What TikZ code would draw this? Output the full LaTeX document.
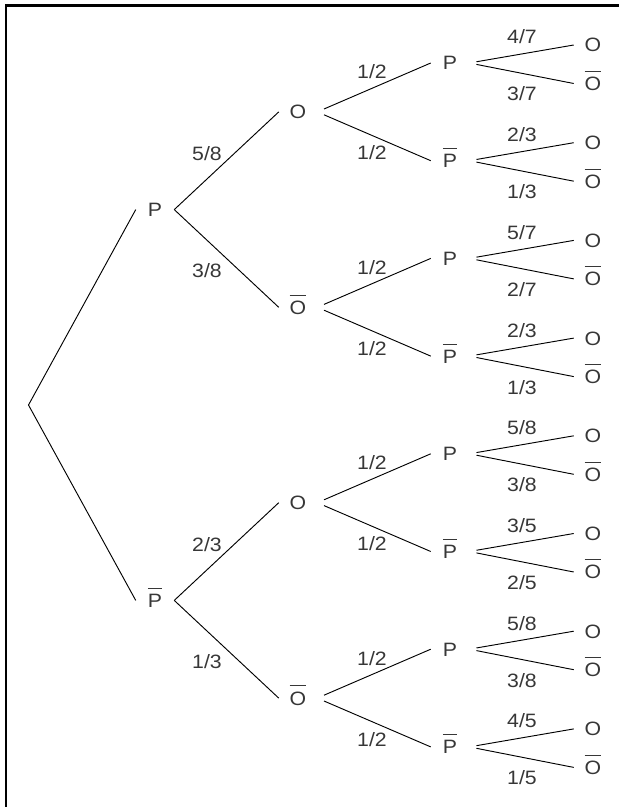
\documentclass[tikz,border=0pt]{standalone}
\usepackage{fontspec}
\setmainfont{Liberation Sans}[FakeStretch=1.1]
\usepackage{xcolor}
\usepackage{tikz}
\usetikzlibrary{positioning}
\definecolor{inkgrey}{RGB}{55,55,55}
\newcommand{\dfont}{\fontsize{14.5}{16}\selectfont}
\newcommand{\nb}[1]{\setbox0\hbox{#1}\rlap{\rule[\dimexpr\ht0+3.8pt\relax]{\wd0}{0.75pt}}\box0}
\tikzset{
  evt/.style  ={font=\dfont, text=inkgrey, inner sep=0pt, minimum width=28.5pt,
                text height=10.4pt, text depth=0pt},
  prob/.style ={font=\dfont, text=inkgrey, inner sep=0pt,
                text height=10.4pt, text depth=0pt},
  br/.style   ={draw=black, line width=0.7pt},
  brr/.style  ={br, shorten <=5.5pt},
  frame/.style={draw=black, line width=2.2pt},
}
\begin{document}
\begin{tikzpicture}[x=0.75pt,y=-0.75pt]
\useasboundingbox (0,0) rectangle (619,807);
\draw[frame] (6,807) -- (6,5.5) -- (619,5.5);

% first draw
\coordinate (root) at (28.5,405);
\node[evt] (a0) at (155,209.6) {P};
\node[evt] (a1) at (155,600.4) {\nb{P}};
\draw[br] (root) -- (a0.west);
\draw[br] (root) -- (a1.west);

% second draw
\node[evt] (b0) at (298,111.9) {O};
\node[evt] (b1) at (298,307.3) {\nb{O}};
\node[evt] (b2) at (298,502.7) {O};
\node[evt] (b3) at (298,698.1) {\nb{O}};
\draw[br] (a0.east) -- (b0.west);
\draw[br] (a0.east) -- (b1.west);
\draw[br] (a1.east) -- (b2.west);
\draw[br] (a1.east) -- (b3.west);
\node[prob] (pa0) at (207,153.6) {5/8};
\node[prob] (pa1) at (207,270.6) {3/8};
\node[prob] (pa2) at (207,544.4) {2/3};
\node[prob] (pa3) at (207,661.4) {1/3};
\foreach \j/\y in {0/111.9,1/307.3,2/502.7,3/698.1}{
  \node[prob] (pb\j u) at (372,\y-40) {1/2};
  \node[prob] (pb\j l) at (372,\y+41) {1/2};
}

% third draw and leaves
\foreach \k/\pa/\lab/\ua/\ub/\la/\lb in {0/b0/P/4/7/3/7, 1/b0/{\nb{P}}/2/3/1/3,
    2/b1/P/5/7/2/7, 3/b1/{\nb{P}}/2/3/1/3, 4/b2/P/5/8/3/8, 5/b2/{\nb{P}}/3/5/2/5,
    6/b3/P/5/8/3/8, 7/b3/{\nb{P}}/4/5/1/5}{
  \pgfmathsetmacro\yk{63+97.7*\k}
  \node[evt] (c\k) at (450,\yk) {\lab};
  \draw[brr] (\pa.east) -- (c\k.west);
  \node[evt] (d\k o) at (593,\yk-18) {O};
  \node[evt] (d\k n) at (593,\yk+20.5) {\nb{O}};
  \draw[brr] (c\k.east) -- (d\k o.west);
  \draw[brr] (c\k.east) -- (d\k n.west);
  \node[prob] (pc\k u) at (522,\yk-26) {\ua/\ub};
  \node[prob] (pc\k l) at (522,\yk+31) {\la/\lb};
}
\end{tikzpicture}
\end{document}
